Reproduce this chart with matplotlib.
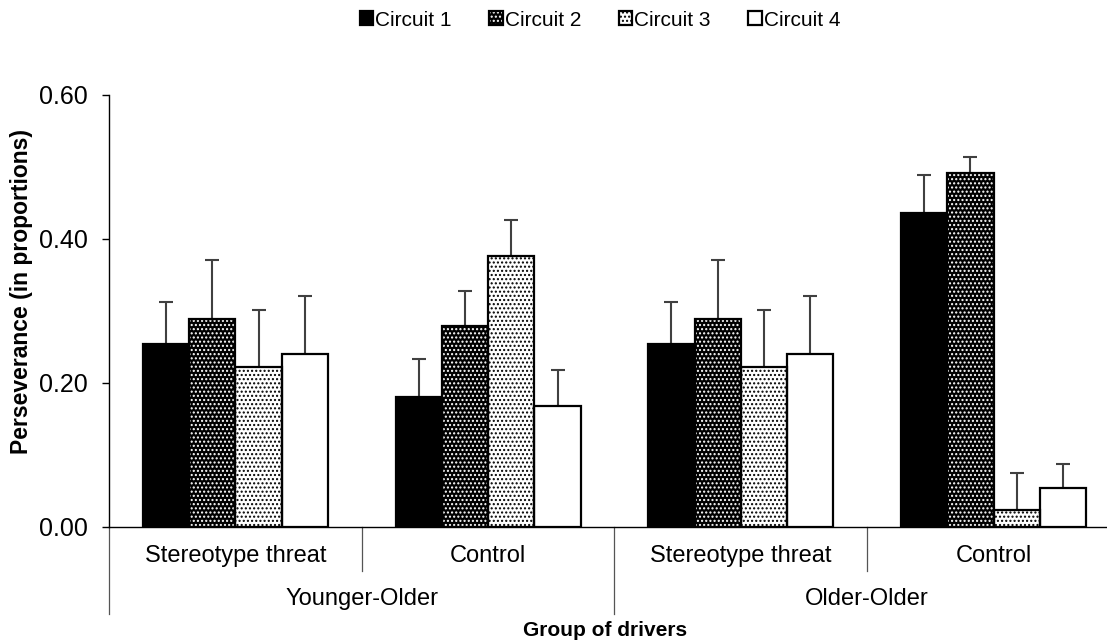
import numpy as np
import matplotlib
matplotlib.use('Agg')
import matplotlib.pyplot as plt
import matplotlib.transforms as mtransforms
from matplotlib.patches import Patch
from matplotlib.legend_handler import HandlerTuple

plt.rcParams['font.family'] = ['Liberation Sans', 'DejaVu Sans']

conditions = ['Stereotype threat', 'Control', 'Stereotype threat', 'Control']
groups = ['Younger-Older', 'Older-Older']
series = ['Circuit 1', 'Circuit 2', 'Circuit 3', 'Circuit 4']

c1 = [0.254, 0.180, 0.254, 0.436]
c2 = [0.289, 0.279, 0.289, 0.491]
c3 = [0.222, 0.377, 0.222, 0.023]
c4 = [0.240, 0.168, 0.240, 0.054]
c1_err = [0.059, 0.053, 0.059, 0.053]
c2_err = [0.082, 0.049, 0.082, 0.023]
c3_err = [0.080, 0.049, 0.080, 0.052]
c4_err = [0.081, 0.050, 0.081, 0.034]

values = [c1, c2, c3, c4]
errors = [c1_err, c2_err, c3_err, c4_err]
# face, hatch colour, hatch
styles = [('black', 'black', ''), ('black', 'white', '....'),
          ('white', 'black', '....'), ('white', 'black', '')]

fig = plt.figure(figsize=(11.07, 6.41), dpi=100)
ax = fig.add_axes([109/1107, 1-527/641, 1011/1107, 432/641])

x = np.arange(len(conditions))
w = 0.183
handles = []
for j in range(4):
    pos = x + (j-1.5)*w
    face, hcol, hatch = styles[j]
    ax.errorbar(pos, values[j], yerr=errors[j], fmt='none', ecolor='#404040',
                elinewidth=1.5, capsize=4.7, capthick=1.5, zorder=1)
    ax.bar(pos, values[j], w, color=face, edgecolor=hcol, hatch=hatch,
           linewidth=0, zorder=2)
    ax.bar(pos, values[j], w, fill=False, edgecolor='black', linewidth=1.6, zorder=3)
    handles.append((Patch(facecolor=face, edgecolor=hcol, hatch=hatch, linewidth=0),
                    Patch(fill=False, edgecolor='black', linewidth=1.6)))

ax.set_xlim(-0.5, 3.5)
ax.set_ylim(0, 0.6)
ax.set_yticks([0, 0.2, 0.4, 0.6])
ax.set_yticklabels(['0.00', '0.20', '0.40', '0.60'], fontsize=18)
ax.tick_params(axis='y', length=5, pad=10, width=1)
ax.set_xticks([])
for s in ['top', 'right']:
    ax.spines[s].set_visible(False)
ax.spines['left'].set_linewidth(1)
ax.spines['bottom'].set_linewidth(1)

tr = mtransforms.blended_transform_factory(ax.transData, ax.transAxes)
for b in [0.5, 2.5]:
    ax.plot([b, b], [0, -0.102], color='#555555', lw=0.9, transform=tr, clip_on=False)
for b in [-0.5, 1.5, 3.5]:
    ax.plot([b, b], [0, -0.201], color='#555555', lw=0.9, transform=tr, clip_on=False)
for i, c in enumerate(conditions):
    ax.text(x[i], -0.067, c, transform=tr, ha='center', va='center', fontsize=17)
for i, g in enumerate(groups):
    ax.text(2*i+0.5, -0.167, g, transform=tr, ha='center', va='center', fontsize=17)

fig.text(605/1107, 1-631/641, 'Group of drivers', ha='center', va='center',
         fontsize=15, fontweight='bold')
fig.text(22/1107, 1-291/641, 'Perseverance (in proportions)', ha='center', va='center',
         rotation=90, fontsize=16.5, fontweight='bold')

fig.legend(handles, series, handler_map={tuple: HandlerTuple(ndivide=1, pad=0)},
           loc='center', bbox_to_anchor=(600/1107, 1-20/641), ncol=4, frameon=False,
           fontsize=15, handlelength=0.65, handleheight=0.65, handletextpad=0.1,
           columnspacing=1.8)

fig.savefig('out.png', dpi=100)
